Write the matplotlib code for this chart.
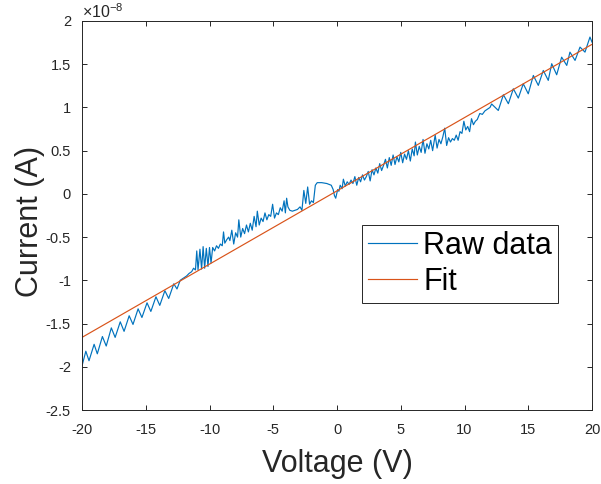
import matplotlib
matplotlib.use("Agg")
import matplotlib.pyplot as plt

plt.rcParams['font.family'] = ['Liberation Sans', 'DejaVu Sans']
plt.rcParams['axes.unicode_minus'] = False
plt.rcParams['mathtext.fontset'] = 'custom'
plt.rcParams['mathtext.rm'] = 'Liberation Sans'

# Raw data (voltage in V, current in units of 1e-8 A)
voltage = [
    -20.00, -19.70, -19.45, -19.05, -18.80, -18.40, -18.10, -17.70, -17.40, -17.00,
    -16.70, -16.30, -16.00, -15.60, -15.30, -14.90, -14.60, -14.20, -13.90, -13.50,
    -13.20, -12.80, -12.55,
    -12.30, -12.00, -11.80, -11.60, -11.40, -11.25, -11.10, -11.00, -10.90, -10.75,
    -10.62, -10.50, -10.38, -10.25, -10.12, -10.00, -9.88, -9.75, -9.60, -9.45,
    -9.30, -9.15, -9.00, -8.90, -8.80, -8.65, -8.50, -8.40, -8.25, -8.10,
    -7.95, -7.80, -7.70, -7.55, -7.40, -7.25, -7.10, -6.95, -6.80, -6.65,
    -6.50, -6.35, -6.25, -6.10, -5.95, -5.80, -5.65, -5.50, -5.35, -5.20,
    -5.05, -4.90, -4.75, -4.60, -4.45, -4.30, -4.15, -4.05, -3.95, -3.85,
    -3.70, -3.50, -3.30, -3.10, -2.90, -2.75, -2.60, -2.45, -2.30, -2.15,
    -2.00, -1.85, -1.70, -1.55, -1.20, -0.80, -0.45, -0.30, -0.20, -0.10,
    0.05, 0.15, 0.25, 0.40, 0.50, 0.65, 0.80, 0.95, 1.10, 1.25,
    1.40, 1.55, 1.70, 1.85, 2.00, 2.15, 2.30, 2.45, 2.60, 2.75,
    2.90, 3.05, 3.20, 3.35, 3.50, 3.65, 3.80, 3.95, 4.10, 4.25,
    4.40, 4.55, 4.70, 4.85, 5.00, 5.15, 5.30, 5.45, 5.60, 5.75,
    5.90, 6.05, 6.15, 6.30, 6.45, 6.60, 6.75, 6.90, 7.05, 7.20,
    7.35, 7.50, 7.70, 7.85, 8.00, 8.15, 8.30, 8.45, 8.60, 8.75,
    8.90, 9.05, 9.20, 9.35, 9.50, 9.65, 9.80, 9.95, 10.10, 10.25,
    10.40, 10.55, 10.70, 10.85, 11.00, 11.20, 11.40, 11.60, 11.80, 12.00,
    12.13, 12.65, 13.05, 13.44, 13.83, 14.22, 14.61, 15.00, 15.40, 15.79,
    16.18, 16.57, 16.84, 17.23, 17.62, 18.02, 18.27, 18.67, 19.06, 19.45,
    19.84, 20.00,
]
current = [
    -1.99, -1.82, -1.93, -1.74, -1.85, -1.65, -1.76, -1.55, -1.66, -1.48,
    -1.59, -1.41, -1.51, -1.33, -1.43, -1.26, -1.36, -1.19, -1.29, -1.12,
    -1.21, -1.04, -1.10,
    -1.00, -0.97, -0.95, -0.92, -0.90, -0.86, -0.88, -0.66, -0.88, -0.64,
    -0.87, -0.61, -0.86, -0.63, -0.84, -0.62, -0.80, -0.62, -0.66, -0.60,
    -0.63, -0.58, -0.60, -0.44, -0.57, -0.53, -0.50, -0.54, -0.42, -0.58,
    -0.45, -0.50, -0.30, -0.50, -0.40, -0.46, -0.36, -0.44, -0.34, -0.42,
    -0.26, -0.38, -0.20, -0.36, -0.28, -0.32, -0.22, -0.30, -0.24, -0.26,
    -0.12, -0.28, -0.22, -0.24, -0.16, -0.20, -0.08, -0.22, -0.05, -0.15,
    -0.19, -0.20, -0.19, -0.18, -0.15, -0.19, 0.04, -0.11, 0.08, -0.12,
    -0.08, -0.10, 0.10, 0.13, 0.13, 0.12, 0.10, 0.05, -0.02, -0.05,
    0.05, 0.03, 0.10, 0.06, 0.17, 0.09, 0.14, 0.11, 0.16, 0.12,
    0.20, 0.10, 0.19, 0.14, 0.22, 0.16, 0.20, 0.26, 0.15, 0.28,
    0.22, 0.30, 0.24, 0.35, 0.27, 0.33, 0.40, 0.30, 0.42, 0.33,
    0.45, 0.34, 0.43, 0.37, 0.48, 0.36, 0.46, 0.40, 0.50, 0.38,
    0.52, 0.44, 0.60, 0.45, 0.55, 0.48, 0.63, 0.47, 0.58, 0.52,
    0.62, 0.50, 0.68, 0.53, 0.63, 0.58, 0.66, 0.76, 0.56, 0.65,
    0.60, 0.64, 0.62, 0.68, 0.62, 0.72, 0.70, 0.84, 0.74, 0.78,
    0.72, 0.87, 0.80, 0.84, 0.86, 0.93, 0.92, 0.96, 0.98, 1.00,
    1.04, 0.965, 1.147, 1.043, 1.216, 1.108, 1.274, 1.158, 1.370, 1.255,
    1.428, 1.313, 1.506, 1.378, 1.582, 1.486, 1.640, 1.544, 1.698, 1.640,
    1.814, 1.756,
]

# Linear fit line endpoints (units of 1e-8 A)
fit_voltage = [-20, 20]
fit_current = [-1.66, 1.73]

x_ticks = [-20, -15, -10, -5, 0, 5, 10, 15, 20]
y_ticks = [-2.5, -2, -1.5, -1, -0.5, 0, 0.5, 1, 1.5, 2]
y_tick_labels = ['-2.5', '-2', '-1.5', '-1', '-0.5', '0', '0.5', '1', '1.5', '2']

axis_color = '#262626'

fig = plt.figure(figsize=(6.01, 4.84), dpi=100)
ax = fig.add_axes([82 / 601, 74 / 484, 510 / 601, 389 / 484])

ax.plot(voltage, current, color='#0072BD', lw=0.85, label='Raw data')
ax.plot(fit_voltage, fit_current, color='#D95319', lw=0.85, label='Fit')

ax.set_xlim(-20, 20)
ax.set_ylim(-2.5, 2)
ax.set_xticks(x_ticks)
ax.set_xticklabels([str(t) for t in x_ticks])
ax.set_yticks(y_ticks)
ax.set_yticklabels(y_tick_labels)

for s in ax.spines.values():
    s.set_color(axis_color)
    s.set_linewidth(0.7)
ax.tick_params(direction='in', length=3.6, width=0.7, color=axis_color,
               labelcolor=axis_color, labelsize=10.5, top=True, right=True)
ax.tick_params(axis='x', pad=9)
ax.tick_params(axis='y', pad=8)

ax.set_xlabel('Voltage (V)', fontsize=22, color=axis_color)
ax.set_ylabel('Current (A)', fontsize=22, color=axis_color)
ax.xaxis.set_label_coords(0.5, -0.1)
ax.yaxis.set_label_coords(-0.072, 0.485)

ax.text(0.0, 1.0, r'$\mathregular{\times10^{-8}}$', transform=ax.transAxes,
        ha='left', va='bottom', fontsize=11.5, color=axis_color)

leg = ax.legend(loc='center', bbox_to_anchor=(0.742, 0.375), fontsize=22,
                frameon=True, fancybox=False, framealpha=1, edgecolor=axis_color,
                handlelength=1.6, handletextpad=0.2, borderpad=0.2,
                labelspacing=0.2, borderaxespad=0)
leg.get_frame().set_linewidth(0.7)
for t in leg.get_texts():
    t.set_color('black')

fig.savefig('out.png', dpi=100)
